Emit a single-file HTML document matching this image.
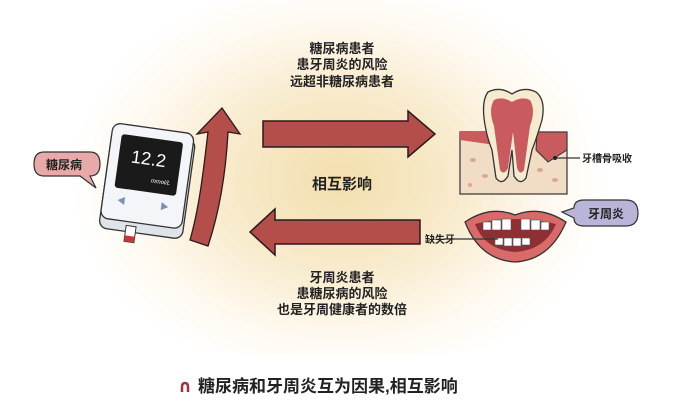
<!DOCTYPE html>
<html><head><meta charset="utf-8"><style>
html,body{margin:0;padding:0;background:#fff;}
svg{display:block;}
text{font-family:"Liberation Sans","Noto Sans CJK SC",sans-serif;}
</style></head><body>
<svg width="692" height="403" viewBox="0 0 692 403" xmlns="http://www.w3.org/2000/svg">
<defs>
<radialGradient id="bg" cx="340" cy="180" r="270" gradientUnits="userSpaceOnUse" gradientTransform="translate(340 180) scale(1 0.75) translate(-340 -180)">
<stop offset="0" stop-color="#f3dfae"/><stop offset="0.45" stop-color="#f8ebcd"/><stop offset="0.8" stop-color="#fffaf2"/><stop offset="1" stop-color="#fff"/>
</radialGradient>
</defs>
<rect width="692" height="403" fill="#fff"/>
<rect x="0" y="0" width="692" height="355" fill="url(#bg)"/>

<g font-size="13" fill="#222" text-anchor="middle" font-weight="bold">
<text x="342" y="53">糖尿病患者</text>
<text x="342" y="69">患牙周炎的风险</text>
<text x="342" y="86">远超非糖尿病患者</text>
<text x="342" y="282">牙周炎患者</text>
<text x="342" y="298">患糖尿病的风险</text>
<text x="342" y="314">也是牙周健康者的数倍</text>
<text x="342" y="189" font-size="15">相互影响</text>
</g>

<path d="M263 121 H408 V111 L435 134 L408 157 V147 H263 Z" fill="#b44e4a" stroke="#2a1a1a" stroke-width="1.5"/>
<path d="M420 220 H275 V209 L250 232 L275 255 V244 H420 Z" fill="#b44e4a" stroke="#2a1a1a" stroke-width="1.5"/>

<path d="M190 240 C200 205 204 165 208 132 L197 134 L222 108 L240 134 L228 132 C226 170 220 210 208 246 Z" fill="#b44e4a" stroke="#2a1a1a" stroke-width="1.3"/>

<g transform="rotate(8 148 178)">
<rect x="106" y="134" width="84" height="100" rx="8" fill="#dfe3ea" stroke="#333" stroke-width="1.3"/>
<rect x="106" y="128" width="82" height="96" rx="8" fill="#f4f5f8" stroke="#333" stroke-width="1.3"/>
<rect x="116" y="138" width="62" height="54" rx="3" fill="#1a1a1a"/>
<text x="146" y="165" font-size="18" fill="#fff" text-anchor="middle" font-family="Liberation Mono">12.2</text>
<text x="161" y="182" font-size="6" fill="#fff" text-anchor="middle" font-style="italic">mmol/L</text>
<path d="M121 204 L128 200 L128 208 Z M172 204 L165 200 L165 208 Z" fill="#7a90b5"/>
<rect x="133" y="228" width="10" height="16" fill="#fff" stroke="#333" stroke-width="1"/>
<rect x="133" y="238" width="10" height="6" fill="#c0393b"/>
</g>

<path d="M44 152 H90 Q100 152 100 164 Q100 176 90 176 L96 188 L80 176 H44 Q34 176 34 164 Q34 152 44 152 Z" fill="#e8a9a9" stroke="#333" stroke-width="1.2"/>
<text x="64" y="169" font-size="12" font-weight="bold" fill="#222" text-anchor="middle">糖尿病</text>

<rect x="460" y="132" width="107" height="62" fill="#f1dcc6" stroke="#333" stroke-width="1.2"/>
<path d="M460 132 H491 L495 145 L460 140 Z" fill="#c95b5e"/>
<path d="M537 132 H567 V150 L548 162 L536 150 Z" fill="#c95b5e" stroke="#333" stroke-width="1"/>
<g fill="#d9a98a"><ellipse cx="473" cy="160" rx="3" ry="2"/><ellipse cx="485" cy="176" rx="3" ry="2"/><ellipse cx="555" cy="180" rx="3" ry="2"/><ellipse cx="540" cy="170" rx="3" ry="2"/><ellipse cx="470" cy="185" rx="2" ry="2"/></g>
<path d="M488 92 Q500 86 512 94 Q524 86 536 92 Q546 100 542 120 Q536 140 532 150 L526 178 Q520 186 514 176 L512 150 L508 176 Q502 186 496 178 L492 150 Q486 135 484 118 Q482 100 488 92 Z" fill="#f5ecd0" stroke="#333" stroke-width="1.3"/>
<path d="M494 100 Q502 96 512 102 Q522 96 530 100 Q536 110 530 126 L524 170 Q520 176 517 168 L513 132 L508 168 Q504 176 500 170 L494 126 Q488 110 494 100 Z" fill="#c95b5e"/>
<line x1="555" y1="158" x2="580" y2="158" stroke="#333" stroke-width="1.2"/>
<circle cx="555" cy="158" r="2" fill="#222"/>
<text x="582" y="162" font-size="10" font-weight="bold" fill="#222">牙槽骨吸收</text>

<path d="M465 222 Q490 205 515 215 Q540 205 566 222 Q550 260 515 262 Q480 260 465 222 Z" fill="#d96a6a" stroke="#333" stroke-width="1.3"/>
<path d="M475 224 Q515 214 556 224 Q545 250 515 252 Q485 250 475 224 Z" fill="#8e2f33"/>
<g fill="#fff" stroke="#555" stroke-width="0.6">
<rect x="483" y="222" width="8" height="8"/><rect x="492" y="220" width="9" height="10"/><rect x="502" y="219" width="9" height="11"/>
<rect x="521" y="219" width="9" height="11"/><rect x="531" y="220" width="9" height="10"/><rect x="541" y="222" width="8" height="8"/>
<rect x="495" y="238" width="8" height="7"/><rect x="504" y="238" width="8" height="8"/><rect x="513" y="238" width="8" height="8"/><rect x="522" y="238" width="8" height="7"/>
</g>
<line x1="444" y1="239" x2="498" y2="239" stroke="#333" stroke-width="1.2"/>
<text x="425" y="243" font-size="10" font-weight="bold" fill="#222">缺失牙</text>

<path d="M584 200 H626 Q638 200 638 213 Q638 226 626 226 H584 Q574 226 574 218 L562 212 L574 208 Q574 200 584 200 Z" fill="#b9b5d8" stroke="#333" stroke-width="1.2"/>
<text x="606" y="218" font-size="12" font-weight="bold" fill="#222" text-anchor="middle">牙周炎</text>

<path d="M182 392 V387 Q182 383 185 383 Q188 383 188 387 V392" fill="none" stroke="#a5303a" stroke-width="2.5"/>
<text x="198" y="392" font-size="17" font-weight="bold" fill="#222">糖尿病和牙周炎互为因果,相互影响</text>
</svg>
</body></html>
